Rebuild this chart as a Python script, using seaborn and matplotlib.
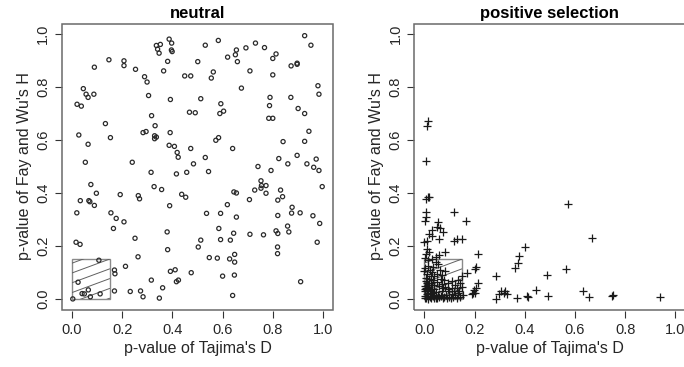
import numpy as np
import pandas as pd
import matplotlib
matplotlib.use("Agg")
import matplotlib.pyplot as plt
import seaborn as sns
from matplotlib.patches import Rectangle

sns.set_style("white")
plt.rcParams['font.family'] = ['Liberation Sans', 'DejaVu Sans']

# ---- neutral simulations: p-values of Tajima's D (x) and Fay & Wu's H (y)
neutral_tajima = [
    0.927, 0.387, 0.583, 0.397, 0.731, 0.952, 0.336, 0.341, 0.347, 0.352, 0.531, 0.396, 0.399,
    0.693, 0.767, 0.655, 0.651, 0.813, 0.620, 0.800, 0.147, 0.207, 0.207, 0.501, 0.381, 0.659,
    0.897, 0.897, 0.089, 0.873, 0.253, 0.365, 0.709, 0.563, 0.800, 0.289, 0.449, 0.473, 0.555,
    0.299, 0.980, 0.675, 0.045, 0.056, 0.087, 0.984, 0.064, 0.305, 0.789, 0.872, 0.392, 0.513,
    0.020, 0.037, 0.593, 0.787, 0.901, 0.468, 0.491, 0.589, 0.604, 0.927, 0.317, 0.784, 0.800,
    0.133, 0.331, 0.944, 0.283, 0.295, 0.391, 0.329, 0.336, 0.329, 0.153, 0.584, 0.027, 0.573,
    0.841, 0.927, 0.064, 0.387, 0.408, 0.640, 0.473, 0.419, 0.423, 0.531, 0.897, 0.824, 0.973,
    0.053, 0.240, 0.484, 0.860, 0.936, 0.741, 0.963, 0.315, 0.544, 0.457, 0.793, 0.984, 0.416,
    0.753, 0.075, 0.755, 0.773, 0.997, 0.327, 0.357, 0.728, 0.753, 0.831, 0.645, 0.655, 0.773,
    0.097, 0.437, 0.453, 0.192, 0.264, 0.269, 0.033, 0.067, 0.071, 0.839, 0.707, 0.820, 0.089,
    0.389, 0.619, 0.019, 0.155, 0.536, 0.592, 0.875, 0.877, 0.909, 0.960, 0.820, 0.655, 0.176,
    0.207, 0.987, 0.165, 0.585, 0.859, 0.379, 0.813, 0.820, 0.864, 0.644, 0.709, 0.763, 0.251,
    0.513, 0.592, 0.631, 0.977, 0.016, 0.032, 0.381, 0.503, 0.819, 0.648, 0.648, 0.819, 0.628,
    0.547, 0.579, 0.263, 0.107, 0.213, 0.169, 0.171, 0.392, 0.411, 0.475, 0.647, 0.600, 0.424,
    0.416, 0.316, 0.024, 0.911, 0.361, 0.065, 0.040, 0.049, 0.169, 0.232, 0.273, 0.112, 0.073,
    0.283, 0.348, 0.640, 0.003,
]
neutral_faywu = [
    0.994, 0.981, 0.976, 0.966, 0.966, 0.958, 0.957, 0.943, 0.928, 0.961, 0.958, 0.940, 0.934,
    0.948, 0.949, 0.940, 0.922, 0.925, 0.913, 0.908, 0.903, 0.899, 0.881, 0.896, 0.897, 0.896,
    0.890, 0.886, 0.875, 0.880, 0.867, 0.861, 0.861, 0.857, 0.846, 0.839, 0.842, 0.842, 0.834,
    0.819, 0.805, 0.796, 0.794, 0.773, 0.773, 0.773, 0.761, 0.768, 0.761, 0.761, 0.753, 0.756,
    0.735, 0.728, 0.737, 0.730, 0.719, 0.705, 0.703, 0.700, 0.709, 0.700, 0.692, 0.682, 0.682,
    0.662, 0.654, 0.633, 0.628, 0.632, 0.628, 0.616, 0.611, 0.605, 0.609, 0.609, 0.619, 0.599,
    0.594, 0.595, 0.584, 0.580, 0.576, 0.568, 0.568, 0.553, 0.535, 0.534, 0.542, 0.530, 0.528,
    0.516, 0.516, 0.510, 0.510, 0.510, 0.500, 0.497, 0.478, 0.481, 0.478, 0.485, 0.485, 0.472,
    0.446, 0.432, 0.428, 0.428, 0.424, 0.424, 0.413, 0.411, 0.418, 0.411, 0.404, 0.400, 0.399,
    0.399, 0.395, 0.384, 0.394, 0.390, 0.378, 0.371, 0.371, 0.367, 0.386, 0.375, 0.373, 0.353,
    0.352, 0.356, 0.325, 0.325, 0.323, 0.323, 0.324, 0.346, 0.325, 0.314, 0.315, 0.309, 0.304,
    0.291, 0.285, 0.266, 0.266, 0.275, 0.253, 0.257, 0.247, 0.253, 0.248, 0.244, 0.242, 0.229,
    0.222, 0.224, 0.222, 0.214, 0.214, 0.206, 0.186, 0.196, 0.196, 0.168, 0.139, 0.171, 0.151,
    0.156, 0.154, 0.159, 0.146, 0.123, 0.109, 0.095, 0.104, 0.110, 0.099, 0.090, 0.086, 0.071,
    0.065, 0.071, 0.063, 0.065, 0.042, 0.034, 0.020, 0.019, 0.030, 0.028, 0.030, 0.019, 0.008,
    0.008, 0.003, 0.013, 0.000,
]

# ---- positive-selection simulations
selection_tajima = [
    0.016, 0.012, 0.005, 0.013, 0.019, 0.005, 0.572, 0.117, 0.005, 0.005, 0.003, 0.167, 0.056,
    0.051, 0.064, 0.075, 0.032, 0.131, 0.151, 0.117, 0.060, 0.667, 0.019, 0.029, 0.009, 0.000,
    0.400, 0.084, 0.011, 0.005, 0.019, 0.213, 0.377, 0.060, 0.045, 0.003, 0.016, 0.029, 0.047,
    0.056, 0.373, 0.363, 0.205, 0.200, 0.563, 0.003, 0.013, 0.000, 0.063, 0.083, 0.069, 0.027,
    0.284, 0.488, 0.169, 0.152, 0.136, 0.144, 0.213, 0.205, 0.112, 0.123, 0.152, 0.083, 0.093,
    0.445, 0.633, 0.199, 0.193, 0.005, 0.011, 0.003, 0.019, 0.003, 0.029, 0.037, 0.045, 0.056,
    0.069, 0.085, 0.099, 0.109, 0.123, 0.136, 0.144, 0.156, 0.189, 0.203, 0.296, 0.304, 0.317,
    0.323, 0.331, 0.285, 0.368, 0.409, 0.413, 0.492, 0.657, 0.747, 0.752, 0.939,
    0.002, 0.008, 0.014, 0.021, 0.027, 0.033, 0.040, 0.047, 0.052, 0.060, 0.066, 0.073, 0.079,
    0.090, 0.105, 0.115, 0.130, 0.004, 0.010, 0.016, 0.023, 0.030, 0.038, 0.002, 0.012, 0.024,
    0.008, 0.015, 0.025, 0.035, 0.006, 0.018, 0.040, 0.050, 0.030, 0.010, 0.022, 0.035, 0.040,
    0.050, 0.060, 0.070, 0.080, 0.095, 0.100, 0.110, 0.120, 0.130, 0.140, 0.065, 0.075, 0.045,
    0.016, 0.028,
]
selection_faywu = [
    0.672, 0.654, 0.522, 0.384, 0.384, 0.376, 0.358, 0.329, 0.327, 0.311, 0.295, 0.295, 0.289,
    0.270, 0.267, 0.254, 0.262, 0.225, 0.225, 0.219, 0.228, 0.229, 0.244, 0.238, 0.219, 0.215,
    0.197, 0.178, 0.187, 0.168, 0.176, 0.168, 0.161, 0.165, 0.158, 0.156, 0.148, 0.149, 0.138,
    0.130, 0.137, 0.118, 0.122, 0.114, 0.113, 0.118, 0.123, 0.105, 0.111, 0.105, 0.090, 0.086,
    0.087, 0.090, 0.099, 0.086, 0.070, 0.061, 0.061, 0.042, 0.067, 0.052, 0.046, 0.046, 0.039,
    0.033, 0.028, 0.032, 0.022, 0.067, 0.061, 0.048, 0.044, 0.029, 0.054, 0.039, 0.027, 0.016,
    0.029, 0.016, 0.008, 0.019, 0.014, 0.022, 0.006, 0.016, 0.019, 0.023, 0.019, 0.029, 0.023,
    0.029, 0.019, 0.000, 0.004, 0.010, 0.006, 0.010, 0.009, 0.011, 0.014, 0.009,
    0.002, 0.005, 0.001, 0.008, 0.003, 0.012, 0.004, 0.009, 0.002, 0.006, 0.011, 0.003, 0.008,
    0.004, 0.002, 0.009, 0.004, 0.012, 0.018, 0.024, 0.017, 0.022, 0.015, 0.036, 0.032, 0.035,
    0.041, 0.052, 0.060, 0.070, 0.080, 0.075, 0.085, 0.095, 0.100, 0.095, 0.108, 0.120, 0.052,
    0.062, 0.048, 0.058, 0.070, 0.060, 0.030, 0.040, 0.030, 0.040, 0.030, 0.075, 0.040, 0.005,
    0.010, 0.028,
]

axis_ticks = [0.0, 0.2, 0.4, 0.6, 0.8, 1.0]
tick_labels = ["0.0", "0.2", "0.4", "0.6", "0.8", "1.0"]
panel_titles = ["neutral", "positive selection"]
x_label = "p-value of Tajima's D"
y_label = "p-value of Fay and Wu's H"
significance_cutoff = 0.15

neutral = pd.DataFrame({"tajima": neutral_tajima, "faywu": neutral_faywu})
selection = pd.DataFrame({"tajima": selection_tajima, "faywu": selection_faywu})

W, H = 684, 367
fig = plt.figure(figsize=(W / 100, H / 100), dpi=100)


def add_axes_px(left, top, right, bottom):
    return fig.add_axes([left / W, 1 - bottom / H, (right - left) / W, (bottom - top) / H])


ax_neutral = add_axes_px(62, 23.5, 333, 309.5)
ax_select = add_axes_px(414.3, 23.5, 685.3, 309.5)

text_col = "#262626"


def style_panel(ax, title):
    ax.set_xlim(-0.04, 1.04)
    ax.set_ylim(-0.04, 1.04)
    for spine in ax.spines.values():
        spine.set_color("none")
    ax.spines["bottom"].set_position(("outward", 1))
    ax.add_patch(Rectangle((0, 0), 1, 1, transform=ax.transAxes, fill=False,
                           ec="#6a6a6a", lw=1.1, clip_on=False, zorder=5))
    ax.set_xticks(axis_ticks)
    ax.set_xticklabels(tick_labels)
    ax.set_yticks(axis_ticks)
    ax.set_yticklabels(tick_labels, rotation=90, va="center")
    ax.tick_params(axis="both", direction="out", length=5, width=0.8, color="#333333",
                   labelsize=10.5, labelcolor=text_col, pad=3.5,
                   bottom=True, left=True)
    ax.set_title(title, fontsize=12, fontweight="bold", color="black", pad=4)
    ax.grid(False)


def draw_cutoff_box(ax):
    # hatched region where both tests are significant
    box = Rectangle((0, 0), significance_cutoff, significance_cutoff, fill=False,
                    ec="#8a8a8a", lw=1.0, zorder=2)
    ax.add_patch(box)
    slope = 0.35
    for c in np.arange(-0.05, significance_cutoff + 0.001, 0.037):
        ln, = ax.plot([0, significance_cutoff], [c, c + slope * significance_cutoff],
                      color="#606060", lw=0.7, zorder=2)
        ln.set_clip_path(box)


for ax, title in zip([ax_neutral, ax_select], panel_titles):
    style_panel(ax, title)
    draw_cutoff_box(ax)

sns.scatterplot(data=neutral, x="tajima", y="faywu", ax=ax_neutral, marker="o",
                s=9, facecolor="none", edgecolor="#2a2a2a", linewidth=0.9, zorder=3)
sns.scatterplot(data=selection, x="tajima", y="faywu", ax=ax_select, marker="+",
                s=30, color="#1a1a1a", linewidth=0.9, zorder=3)

for ax in (ax_neutral, ax_select):
    ax.set_xlabel(x_label, fontsize=11.5, color=text_col, labelpad=3)
    ax.set_ylabel(y_label, fontsize=11.5, color=text_col, labelpad=3)

fig.savefig("out.png", dpi=100)
